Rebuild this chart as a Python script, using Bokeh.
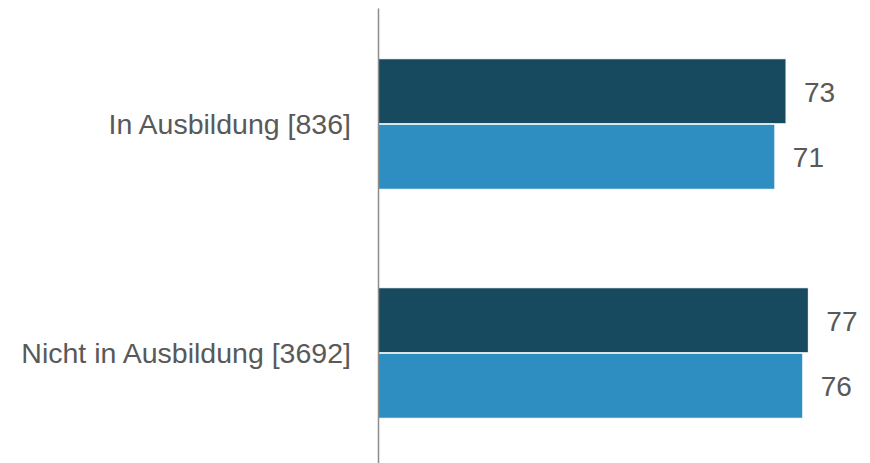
from bokeh.plotting import figure
from bokeh.models import Range1d, FixedTicker, ColumnDataSource
from bokeh.core.properties import value
from bokeh.embed import file_html
from bokeh.resources import INLINE

# --- data ---
categories = ["In Ausbildung [836]", "Nicht in Ausbildung [3692]"]
series_a = [73, 77]   # dark series
series_b = [71, 76]   # light series
cat_pos = [1, 0]      # top to bottom

dark = "#17495F"
light = "#2E8EC2"
txt = "#595959"
font = "Liberation Sans"

p = figure(width=862, height=455, output_backend="svg", toolbar_location=None,
           x_range=Range1d(0, 86.7 + 8 / 5.582), y_range=Range1d(-0.4825, 1.5044),
           min_border_left=370, min_border_right=0, min_border_top=0, min_border_bottom=0)

off = 0.143
h = 0.284
src_a = ColumnDataSource(dict(y=[c + off for c in cat_pos], v=series_a, t=[str(v) for v in series_a]))
src_b = ColumnDataSource(dict(y=[c - off for c in cat_pos], v=series_b, t=[str(v) for v in series_b]))

p.hbar(y="y", right="v", left=0, height=h, source=src_a, fill_color=dark,
       line_color="white", line_width=1)
p.hbar(y="y", right="v", left=0, height=h, source=src_b, fill_color=light,
       line_color="white", line_width=1)

for s in (src_a, src_b):
    p.text(x="v", y="y", text="t", source=s, x_offset=18, y_offset=1,
           text_align="left", text_baseline="middle",
           text_font=value(font), text_font_size="28px", text_color=txt)

p.xaxis.visible = False
p.xgrid.visible = False
p.ygrid.visible = False
p.outline_line_color = None

ya = p.yaxis[0]
ya.ticker = FixedTicker(ticks=cat_pos)
ya.major_label_overrides = {cp: c for cp, c in zip(cat_pos, categories)}
ya.major_tick_out = 0
ya.major_tick_in = 0
ya.minor_tick_out = 0
ya.minor_tick_in = 0
ya.major_label_standoff = 26
ya.axis_line_color = "#8c8c8c"
ya.axis_line_width = 1.5
ya.major_label_text_font = font
ya.major_label_text_font_size = "28.5px"
ya.major_label_text_color = txt

html = file_html(p, INLINE)
html = html.replace("<head>", "<head><style>body{margin:8px !important;}</style>", 1)
open("out.html", "w").write(html)
